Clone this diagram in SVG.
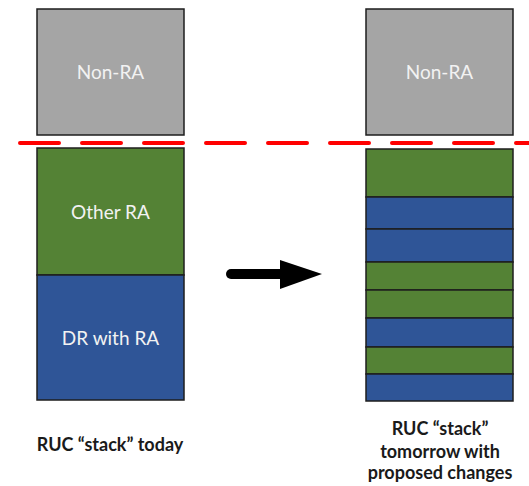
<svg xmlns="http://www.w3.org/2000/svg" width="529" height="486" viewBox="0 0 529 486">
<style>
.box{stroke:#1e1e1e;stroke-width:1.5}
.gray{fill:#a5a5a5}
.green{fill:#548235}
.blue{fill:#2f5597}
.in{font-family:Lato,"Open Sans","Liberation Sans",sans-serif;font-size:19px;fill:#f2f2f2;text-anchor:middle}
.cap{font-family:Lato,"Open Sans","Liberation Sans",sans-serif;font-size:18px;font-weight:bold;fill:#1a1a1a;text-anchor:middle}
</style>
<rect width="529" height="486" fill="#ffffff"/>
<g id="left-nonra"><rect class="box gray" x="37" y="9" width="147" height="126"/><text class="in" x="110.5" y="79">Non-RA</text></g>
<g id="left-other-ra"><rect class="box green" x="37" y="148" width="147" height="127"/><text class="in" x="110.5" y="219">Other RA</text></g>
<g id="left-dr-ra"><rect class="box blue" x="37" y="275" width="147" height="125"/><text class="in" x="110.5" y="345">DR with RA</text></g>
<g id="right-nonra"><rect class="box gray" x="366" y="9" width="147" height="126"/><text class="in" x="439.5" y="79">Non-RA</text></g>
<g id="right-stack">
<rect class="box green" x="366" y="149" width="147" height="48"/>
<rect class="box blue" x="366" y="197" width="147" height="32"/>
<rect class="box blue" x="366" y="229" width="147" height="33"/>
<rect class="box green" x="366" y="262" width="147" height="28"/>
<rect class="box green" x="366" y="290" width="147" height="28"/>
<rect class="box blue" x="366" y="318" width="147" height="29"/>
<rect class="box green" x="366" y="347" width="147" height="27"/>
<rect class="box blue" x="366" y="374" width="147" height="27"/>
</g>
<g id="connectors">
<line x1="20" y1="143" x2="529" y2="143" stroke="#ff0000" stroke-width="4" stroke-dasharray="39 23" stroke-linecap="round"/>
<line x1="231" y1="274" x2="282" y2="274" stroke="#000" stroke-width="10" stroke-linecap="round"/>
<polygon points="280,260 322,274 280,289" fill="#000"/>
</g>
<g id="captions">
<text class="cap" x="110" y="451">RUC “stack” today</text>
<text class="cap" x="440" y="435">RUC “stack”</text>
<text class="cap" x="440" y="458">tomorrow with</text>
<text class="cap" x="440" y="479">proposed changes</text>
</g>
</svg>
